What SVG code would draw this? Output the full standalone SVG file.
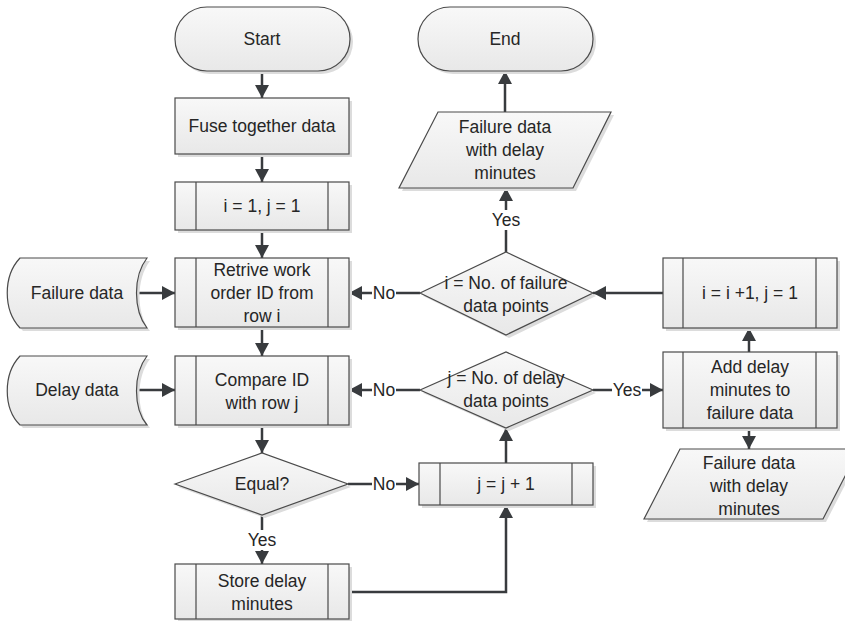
<svg xmlns="http://www.w3.org/2000/svg" width="845" height="621" viewBox="0 0 845 621">
<defs>
<linearGradient id="g" x1="0" y1="0" x2="0" y2="1">
<stop offset="0" stop-color="#f8f8f8"/>
<stop offset="1" stop-color="#e8e8e8"/>
</linearGradient>
<marker id="ah" markerUnits="userSpaceOnUse" markerWidth="14" markerHeight="14" refX="13" refY="7" orient="auto">
<path d="M0,0 L13,7 L0,14 Z" fill="#383b3e"/>
</marker>
<style>
.n{fill:url(#g);stroke:#4a4a4a;stroke-width:1.2}
.s{fill:#dcdcdc;stroke:none}
.b{stroke:#4a4a4a;stroke-width:1.2;fill:none}
.t{font-family:"Liberation Sans",Arial,sans-serif;font-size:17.5px;fill:#262626;text-anchor:middle}
.c{stroke:#383b3e;stroke-width:2.5;fill:none;marker-end:url(#ah)}
.l{font-family:"Liberation Sans",Arial,sans-serif;font-size:17.5px;fill:#262626;text-anchor:middle}
.w{fill:#ffffff}
</style>
</defs>
<rect width="845" height="621" fill="#ffffff"/>

<g id="connectors">
<path class="c" d="M262,71 V98"/>
<path class="c" d="M262,154 V182"/>
<path class="c" d="M262,230 V258"/>
<path class="c" d="M262,327 V356"/>
<path class="c" d="M262,425 V453"/>
<path class="c" d="M262,515 V564"/>
<path class="c" d="M348,484 H419"/>
<path class="c" d="M349,592 H506 V505"/>
<path class="c" d="M506,463 V428"/>
<path class="c" d="M420,390 H349"/>
<path class="c" d="M593,390 H663"/>
<path class="c" d="M749,352 V328"/>
<path class="c" d="M749,428 V449"/>
<path class="c" d="M663,293 H593"/>
<path class="c" d="M420,293 H349"/>
<path class="c" d="M506,252 V188"/>
<path class="c" d="M505,112 V71"/>
<path class="c" d="M138,293 H175"/>
<path class="c" d="M138,390 H175"/>
<rect class="w" x="249" y="530" width="26" height="20"/>
<text class="l" x="262" y="546">Yes</text>
<rect class="w" x="372" y="474" width="24" height="20"/>
<text class="l" x="384" y="490">No</text>
<rect class="w" x="372" y="283" width="24" height="20"/>
<text class="l" x="384" y="299">No</text>
<rect class="w" x="372" y="380" width="24" height="20"/>
<text class="l" x="384" y="396">No</text>
<rect class="w" x="612" y="380" width="30" height="20"/>
<text class="l" x="627" y="396">Yes</text>
<rect class="w" x="491" y="210" width="30" height="20"/>
<text class="l" x="506" y="226">Yes</text>
</g>

<g id="start">
<rect class="s" x="178" y="10" width="175" height="64" rx="32"/>
<rect class="n" x="175" y="7" width="175" height="64" rx="32"/>
<text class="t" x="262" y="45">Start</text>
</g>

<g id="end">
<rect class="s" x="421" y="10" width="175" height="64" rx="32"/>
<rect class="n" x="418" y="7" width="175" height="64" rx="32"/>
<text class="t" x="505" y="45">End</text>
</g>

<g id="fuse">
<rect class="s" x="178" y="101" width="174" height="56"/>
<rect class="n" x="175" y="98" width="174" height="56"/>
<text class="t" x="262" y="132">Fuse together data</text>
</g>

<g id="init">
<rect class="s" x="178" y="185" width="174" height="48"/>
<rect class="n" x="175" y="182" width="174" height="48"/>
<path class="b" d="M196,182 V230 M328,182 V230"/>
<text class="t" x="262" y="212">i = 1, j = 1</text>
</g>

<g id="retrieve">
<rect class="s" x="178" y="261" width="174" height="69"/>
<rect class="n" x="175" y="258" width="174" height="69"/>
<path class="b" d="M196,258 V327 M328,258 V327"/>
<text class="t" x="262" y="276">Retrive work</text>
<text class="t" x="262" y="299">order ID from</text>
<text class="t" x="262" y="322">row i</text>
</g>

<g id="compare">
<rect class="s" x="178" y="359" width="174" height="69"/>
<rect class="n" x="175" y="356" width="174" height="69"/>
<path class="b" d="M196,356 V425 M328,356 V425"/>
<text class="t" x="262" y="386">Compare ID</text>
<text class="t" x="262" y="409">with row j</text>
</g>

<g id="equal">
<path class="s" d="M178,487 L265,456 L351,487 L265,518 Z"/>
<path class="n" d="M175,484 L262,453 L348,484 L262,515 Z"/>
<text class="t" x="262" y="490">Equal?</text>
</g>

<g id="store">
<rect class="s" x="178" y="567" width="174" height="55"/>
<rect class="n" x="175" y="564" width="174" height="55"/>
<path class="b" d="M196,564 V619 M328,564 V619"/>
<text class="t" x="262" y="587">Store delay</text>
<text class="t" x="262" y="610">minutes</text>
</g>

<g id="jinc">
<rect class="s" x="422" y="466" width="174" height="42"/>
<rect class="n" x="419" y="463" width="174" height="42"/>
<path class="b" d="M440,463 V505 M572,463 V505"/>
<text class="t" x="506" y="490">j = j + 1</text>
</g>

<g id="jcheck">
<path class="s" d="M423,393 L509,355 L596,393 L509,431 Z"/>
<path class="n" d="M420,390 L506,352 L593,390 L506,428 Z"/>
<text class="t" x="506" y="384">j = No. of delay</text>
<text class="t" x="506" y="407">data points</text>
</g>

<g id="icheck">
<path class="s" d="M423,296 L509,255 L596,296 L509,338 Z"/>
<path class="n" d="M420,293 L506,252 L593,293 L506,335 Z"/>
<text class="t" x="506" y="289">i = No. of failure</text>
<text class="t" x="506" y="312">data points</text>
</g>

<g id="iinc">
<rect class="s" x="666" y="261" width="174" height="70"/>
<rect class="n" x="663" y="258" width="174" height="70"/>
<path class="b" d="M683,258 V328 M816,258 V328"/>
<text class="t" x="750" y="299">i = i +1, j = 1</text>
</g>

<g id="add">
<rect class="s" x="666" y="355" width="174" height="76"/>
<rect class="n" x="663" y="352" width="174" height="76"/>
<path class="b" d="M683,352 V428 M816,352 V428"/>
<text class="t" x="750" y="373">Add delay</text>
<text class="t" x="750" y="396">minutes to</text>
<text class="t" x="750" y="419">failure data</text>
</g>

<g id="output-top">
<path class="s" d="M441,115 L614,115 L576,191 L402,191 Z"/>
<path class="n" d="M438,112 L611,112 L573,188 L399,188 Z"/>
<text class="t" x="505" y="133">Failure data</text>
<text class="t" x="505" y="156">with delay</text>
<text class="t" x="505" y="179">minutes</text>
</g>

<g id="output-bottom">
<path class="s" d="M683,452 L862,452 L826,522 L647,522 Z"/>
<path class="n" d="M680,449 L859,449 L823,519 L644,519 Z"/>
<text class="t" x="749" y="469">Failure data</text>
<text class="t" x="749" y="492">with delay</text>
<text class="t" x="749" y="515">minutes</text>
</g>

<g id="failure-data">
<path class="s" d="M23,261 L150,261 C136,279 136,313 150,331 L23,331 C6,313 6,279 23,261 Z"/>
<path class="n" d="M20,258 L147,258 C133,276 133,310 147,328 L20,328 C3,310 3,276 20,258 Z"/>
<text class="t" x="77" y="299">Failure data</text>
</g>

<g id="delay-data">
<path class="s" d="M23,359 L150,359 C136,377 136,411 150,428 L23,428 C6,411 6,377 23,359 Z"/>
<path class="n" d="M20,356 L147,356 C133,374 133,408 147,425 L20,425 C3,408 3,374 20,356 Z"/>
<text class="t" x="77" y="396">Delay data</text>
</g>
</svg>
